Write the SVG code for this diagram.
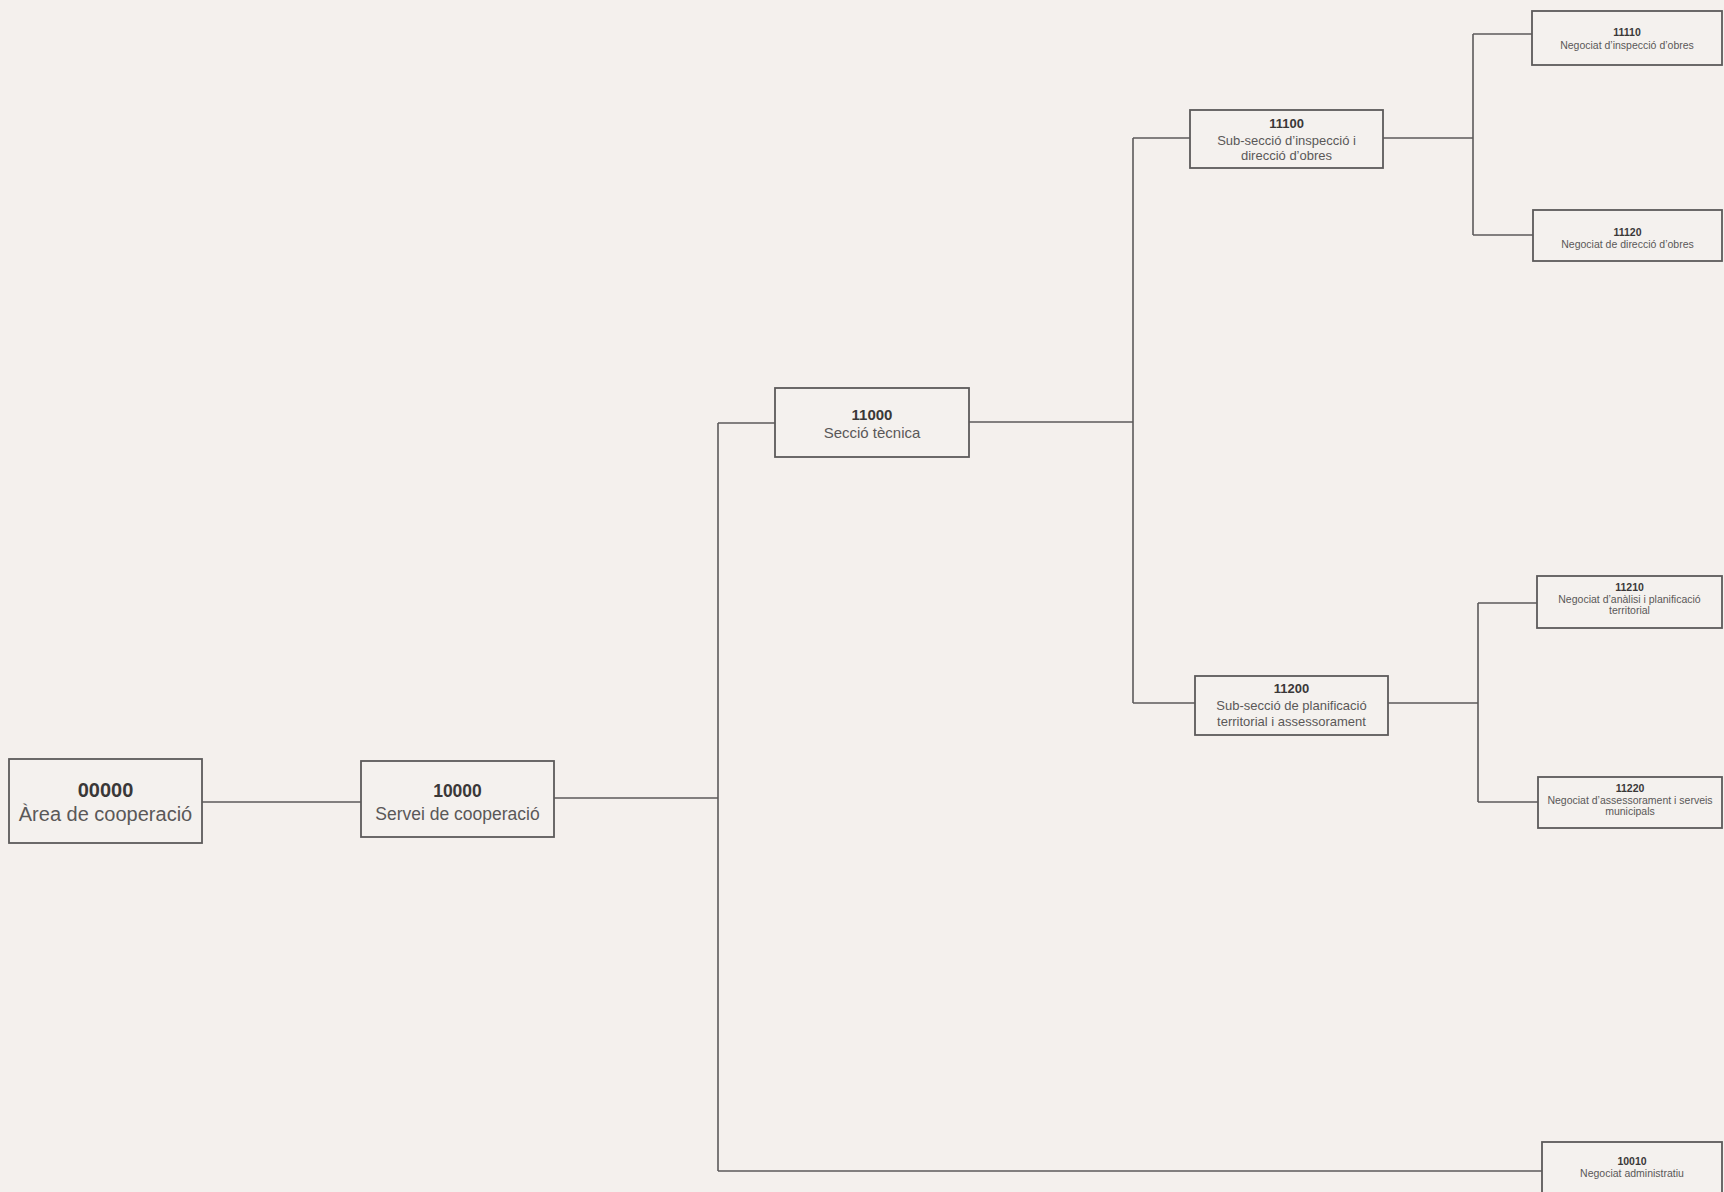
<svg xmlns="http://www.w3.org/2000/svg" width="1724" height="1192" viewBox="0 0 1724 1192">
<style>
.bg{fill:#f4f0ed}
.box{fill:#f4f1ee;stroke:#5c5a5a;stroke-width:1.8}
.con{fill:none;stroke:#5c5a5a;stroke-width:1.6}
text{font-family:"Liberation Sans",Arial,sans-serif;text-anchor:middle;fill:#5a5858}
.num{font-weight:bold;fill:#3a3838}
.xl{font-size:20px}
.l{font-size:17.5px}
.m{font-size:15px}
.s{font-size:13px}
.xs{font-size:10.5px}
</style>
<rect class="bg" x="0" y="0" width="1724" height="1192"/>
<g id="connectors">
<path class="con" d="M202 802H361"/>
<path class="con" d="M554 798H718"/>
<path class="con" d="M718 423V1171"/>
<path class="con" d="M718 423H775"/>
<path class="con" d="M969 422H1133"/>
<path class="con" d="M1133 138V703"/>
<path class="con" d="M1133 138H1190"/>
<path class="con" d="M1133 703H1195"/>
<path class="con" d="M1383 138H1473"/>
<path class="con" d="M1473 34V235"/>
<path class="con" d="M1473 34H1532"/>
<path class="con" d="M1473 235H1533"/>
<path class="con" d="M1388 703H1478"/>
<path class="con" d="M1478 603V802"/>
<path class="con" d="M1478 603H1537"/>
<path class="con" d="M1478 802H1538"/>
<path class="con" d="M718 1171H1542"/>
</g>
<g id="n00000">
<rect class="box" x="9" y="759" width="193" height="84"/>
<text class="num xl" x="105.5" y="797">00000</text>
<text class="xl" x="105.5" y="821">Àrea de cooperació</text>
</g>
<g id="n10000">
<rect class="box" x="361" y="761" width="193" height="76"/>
<text class="num l" x="457.5" y="797">10000</text>
<text class="l" x="457.5" y="820">Servei de cooperació</text>
</g>
<g id="n11000">
<rect class="box" x="775" y="388" width="194" height="69"/>
<text class="num m" x="872" y="420">11000</text>
<text class="m" x="872" y="438">Secció tècnica</text>
</g>
<g id="n11100">
<rect class="box" x="1190" y="110" width="193" height="58"/>
<text class="num s" x="1286.5" y="128">11100</text>
<text class="s" x="1286.5" y="145">Sub-secció d’inspecció i</text>
<text class="s" x="1286.5" y="160">direcció d’obres</text>
</g>
<g id="n11200">
<rect class="box" x="1195" y="676" width="193" height="59"/>
<text class="num s" x="1291.5" y="693">11200</text>
<text class="s" x="1291.5" y="710">Sub-secció de planificació</text>
<text class="s" x="1291.5" y="726">territorial i assessorament</text>
</g>
<g id="n11110">
<rect class="box" x="1532" y="11" width="190" height="54"/>
<text class="num xs" x="1627" y="36">11110</text>
<text class="xs" x="1627" y="49">Negociat d’inspecció d’obres</text>
</g>
<g id="n11120">
<rect class="box" x="1533" y="210" width="189" height="51"/>
<text class="num xs" x="1627.5" y="236">11120</text>
<text class="xs" x="1627.5" y="248">Negociat de direcció d’obres</text>
</g>
<g id="n11210">
<rect class="box" x="1537" y="576" width="185" height="52"/>
<text class="num xs" x="1629.5" y="591">11210</text>
<text class="xs" x="1629.5" y="603">Negociat d’anàlisi i planificació</text>
<text class="xs" x="1629.5" y="614">territorial</text>
</g>
<g id="n11220">
<rect class="box" x="1538" y="777" width="184" height="51"/>
<text class="num xs" x="1630" y="792">11220</text>
<text class="xs" x="1630" y="804">Negociat d’assessorament i serveis</text>
<text class="xs" x="1630" y="815">municipals</text>
</g>
<g id="n10010">
<rect class="box" x="1542" y="1142" width="180" height="60"/>
<text class="num xs" x="1632" y="1165">10010</text>
<text class="xs" x="1632" y="1177">Negociat administratiu</text>
</g>
</svg>
